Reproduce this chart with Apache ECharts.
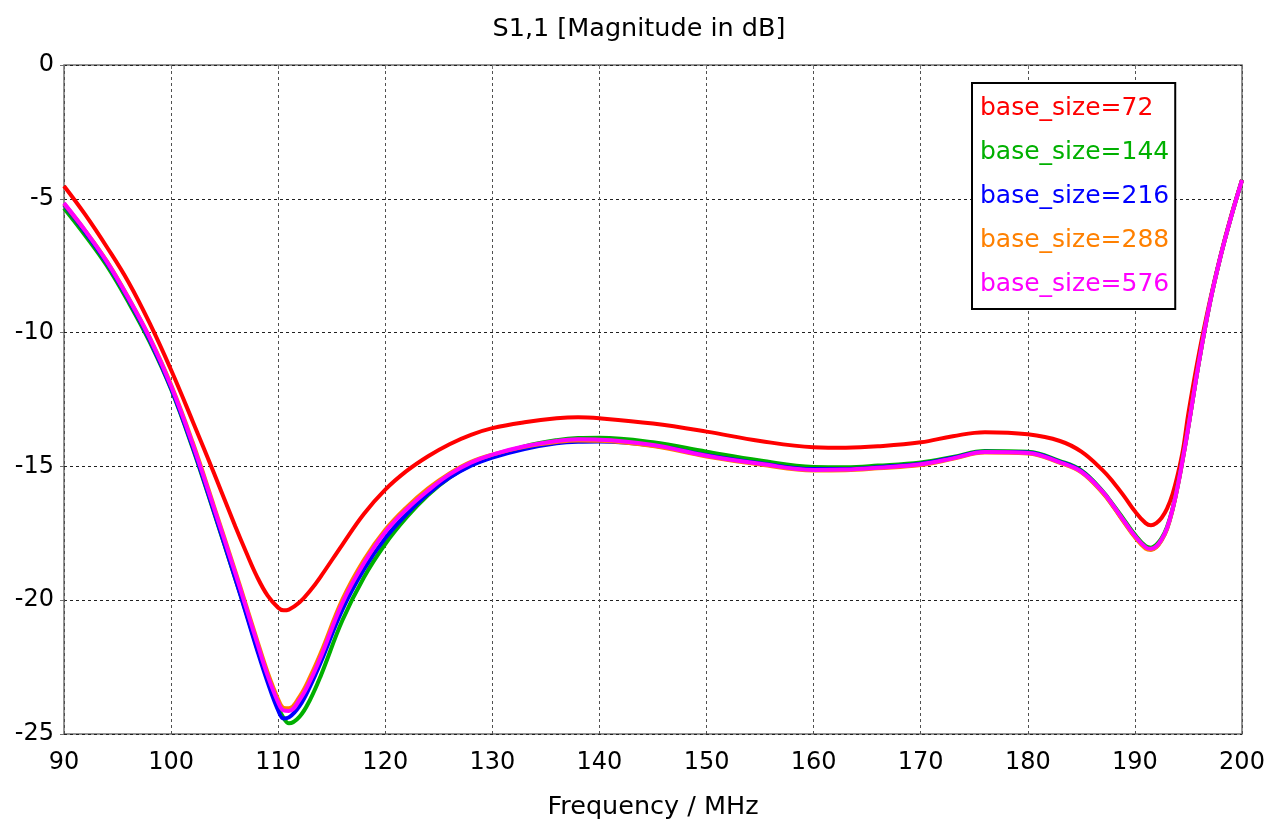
<!DOCTYPE html>
<html>
<head>
<meta charset="utf-8">
<title>S1,1 [Magnitude in dB]</title>
<script src="https://cdn.jsdelivr.net/npm/echarts@6/dist/echarts.min.js"></script>
<style>
  html, body { margin: 0; padding: 0; background: #ffffff; }
  #chart { width: 1278px; height: 825px; }
</style>
</head>
<body>
<div id="chart"></div>
<script>
// Frequency samples (MHz) shared by all sweeps
const freqMHz = [90, 92, 94, 96, 98, 100, 102, 104, 106, 107,
  108, 109, 110, 110.5, 111, 112, 113, 114, 116, 118,
  120, 122, 124, 126, 128, 130, 133, 136, 138, 140,
  145, 150, 155, 160, 163, 166, 170, 173, 176, 180,
  183, 185, 187, 188, 189, 190, 191, 191.5, 192, 192.5,
  193, 193.5, 194, 194.5, 195, 196, 197, 198, 199, 200];

// |S11| in dB for each mesh base size
const s11_base72 = [-4.52, -5.6, -6.8, -8.1, -9.65, -11.4, -13.3, -15.25, -17.25, -18.2,
  -19.1, -19.82, -20.28, -20.38, -20.35, -20.08, -19.64, -19.1, -17.92, -16.78,
  -15.87, -15.17, -14.62, -14.17, -13.82, -13.57, -13.35, -13.2, -13.16, -13.2,
  -13.4, -13.7, -14.05, -14.28, -14.3, -14.25, -14.1, -13.87, -13.72, -13.8,
  -14.05, -14.45, -15.15, -15.6, -16.12, -16.68, -17.12, -17.2, -17.12, -16.92,
  -16.58, -16.05, -15.3, -14.35, -13.0, -10.75, -8.82, -7.12, -5.62, -4.3];
const s11_base144 = [-5.35, -6.38, -7.5, -8.85, -10.35, -12.12, -14.3, -16.72, -19.2, -20.45,
  -21.75, -22.95, -24.0, -24.4, -24.6, -24.35, -23.7, -22.8, -20.75, -19.15,
  -17.9, -16.9, -16.07, -15.42, -14.95, -14.62, -14.25, -14.02, -13.94, -13.93,
  -14.1, -14.45, -14.78, -15.02, -15.03, -14.97, -14.85, -14.65, -14.42, -14.45,
  -14.8, -15.15, -15.93, -16.45, -17.0, -17.55, -17.98, -18.04, -17.93, -17.68,
  -17.26, -16.6, -15.68, -14.62, -13.48, -11.05, -8.9, -7.15, -5.65, -4.3];
const s11_base216 = [-5.22, -6.26, -7.4, -8.75, -10.27, -12.08, -14.25, -16.68, -19.2, -20.5,
  -21.82, -23.05, -24.12, -24.42, -24.38, -23.95, -23.2, -22.3, -20.35, -18.85,
  -17.68, -16.78, -16.02, -15.42, -14.97, -14.67, -14.35, -14.14, -14.08, -14.07,
  -14.22, -14.58, -14.88, -15.1, -15.1, -15.03, -14.9, -14.68, -14.45, -14.48,
  -14.83, -15.18, -15.97, -16.5, -17.07, -17.62, -18.04, -18.1, -18.0, -17.74,
  -17.32, -16.64, -15.73, -14.66, -13.5, -11.05, -8.9, -7.15, -5.65, -4.3];
const s11_base288 = [-5.18, -6.2, -7.33, -8.68, -10.18, -11.95, -14.08, -16.48, -18.92, -20.18,
  -21.45, -22.68, -23.7, -24.02, -24.04, -23.6, -22.85, -21.95, -19.97, -18.5,
  -17.37, -16.52, -15.82, -15.26, -14.83, -14.56, -14.27, -14.09, -14.03, -14.04,
  -14.24, -14.63, -14.93, -15.15, -15.14, -15.07, -14.95, -14.72, -14.48, -14.52,
  -14.87, -15.22, -16.0, -16.52, -17.1, -17.65, -18.07, -18.12, -18.02, -17.76,
  -17.34, -16.65, -15.74, -14.67, -13.5, -11.05, -8.9, -7.15, -5.65, -4.3];
const s11_base576 = [-5.16, -6.2, -7.35, -8.7, -10.2, -12.0, -14.15, -16.55, -19.0, -20.27,
  -21.55, -22.8, -23.82, -24.12, -24.14, -23.72, -23.0, -22.1, -20.1, -18.62,
  -17.45, -16.6, -15.9, -15.3, -14.86, -14.56, -14.25, -14.05, -13.99, -14.0,
  -14.2, -14.6, -14.9, -15.13, -15.12, -15.05, -14.92, -14.7, -14.46, -14.5,
  -14.85, -15.2, -15.95, -16.48, -17.05, -17.6, -18.02, -18.08, -17.98, -17.72,
  -17.3, -16.62, -15.72, -14.65, -13.5, -11.05, -8.9, -7.15, -5.65, -4.3];

const seriesNames = ['base_size=72', 'base_size=144', 'base_size=216', 'base_size=288', 'base_size=576'];
const seriesValues = [s11_base72, s11_base144, s11_base216, s11_base288, s11_base576];
const seriesColors = ['#ff0000', '#00b000', '#0000ff', '#ff8000', '#ff00ff'];

const FONT = '"DejaVu Sans", Verdana, sans-serif';

const chart = echarts.init(document.getElementById('chart'), null, { renderer: 'canvas' });

const series = seriesNames.map((name, k) => ({
  name: name,
  type: 'line',
  data: freqMHz.map((f, i) => [f, seriesValues[k][i]]),
  smooth: 0.4,
  symbol: 'none',
  lineStyle: { color: seriesColors[k], width: 4 },
  itemStyle: { color: seriesColors[k] },
  emphasis: { disabled: true },
  z: 2 + k
}));

chart.setOption({
  animation: false,
  backgroundColor: '#ffffff',
  title: {
    text: 'S1,1 [Magnitude in dB]',
    left: 'center',
    top: 11,
    textStyle: { fontFamily: FONT, fontSize: 25.5, fontWeight: 'normal', color: '#000' }
  },
  grid: {
    left: 64, right: 36, top: 65, bottom: 91,
    show: true,
    borderColor: '#707070',
    borderWidth: 1.5,
    backgroundColor: '#ffffff'
  },
  legend: {
    orient: 'vertical',
    left: 972,
    top: 83,
    padding: [10, 6, 10, 3],
    itemGap: 14,
    itemWidth: 0,
    itemHeight: 0,
    icon: 'none',
    selectedMode: false,
    backgroundColor: '#ffffff',
    borderColor: '#000000',
    borderWidth: 2,
    textStyle: { fontFamily: FONT, fontSize: 25, lineHeight: 30 },
    data: seriesNames.map((n, k) => ({ name: n, textStyle: { color: seriesColors[k] } }))
  },
  xAxis: {
    type: 'value',
    min: 90, max: 200, interval: 10,
    name: 'Frequency / MHz',
    nameLocation: 'middle',
    nameGap: 60,
    nameTextStyle: { fontFamily: FONT, fontSize: 25.5, color: '#000' },
    axisLine: { show: false },
    axisTick: { show: true, inside: false, length: 4, lineStyle: { color: '#707070', width: 1 } },
    axisLabel: { fontFamily: FONT, fontSize: 24, color: '#000', margin: 17 },
    splitLine: { show: true, lineStyle: { color: '#505050', type: [3, 3], width: 1 } }
  },
  yAxis: {
    type: 'value',
    min: -25, max: 0, interval: 5,
    axisLine: { show: false },
    axisTick: { show: true, inside: false, length: 4, lineStyle: { color: '#707070', width: 1 } },
    axisLabel: { fontFamily: FONT, fontSize: 24, color: '#000', margin: 10 },
    splitLine: { show: true, lineStyle: { color: '#202020', type: [3, 3], width: 1 } }
  },
  series: series
});
</script>
</body>
</html>
